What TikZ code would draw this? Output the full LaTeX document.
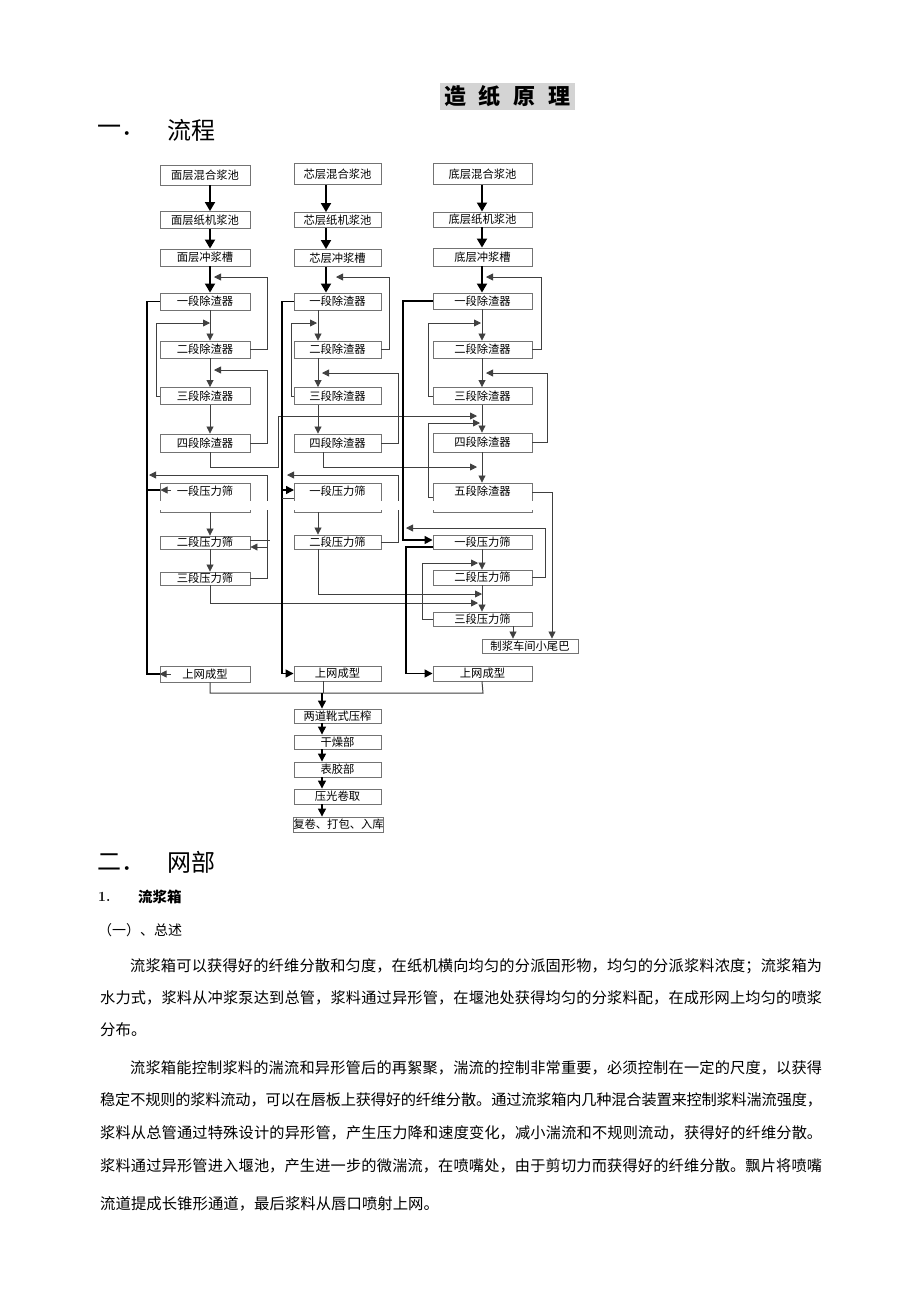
\documentclass[tikz,border=0pt]{standalone}
\usepackage{fontspec}
\newfontfamily\cjk{Noto Sans CJK SC}
\usetikzlibrary{arrows.meta}
\XeTeXlinebreaklocale "zh"
\XeTeXlinebreakskip=0pt plus 3pt minus 0.5pt
\tolerance=9999
\newcommand\jl[2]{\parbox{#1}{\cjk\fontsize{15.2}{18}\selectfont\parfillskip=0pt\relax\noindent #2}}
\begin{document}
\begin{tikzpicture}[x=1pt,y=-1pt,
  bx/.style={draw=black!55,line width=0.9pt,fill=white,inner sep=0pt,font=\cjk\fontsize{11.3}{11.3}\selectfont},
  wa/.style={minimum width=90pt},
  wb/.style={minimum width=87pt},
  wc/.style={minimum width=99pt},
  split/.style={minimum height=29pt,text height=12pt,text depth=17pt},
  ln/.style={draw=black!75,line width=0.8pt},
  thk/.style={draw=black,line width=1.4pt},
  arr/.style={ln,-{Triangle[length=7pt,width=7pt]}},
  tarr/.style={draw=black,line width=1.8pt,-{Triangle[length=9pt,width=10pt]}},
  barr/.style={draw=black,line width=1.3pt,-{Triangle[length=8pt,width=8pt]}},
  tharr/.style={thk,-{Triangle[length=8pt,width=8pt]}},
  txt/.style={inner sep=0pt,anchor=west}
]
\fill[white] (0,0) rectangle (920,1302);
\useasboundingbox (0,0) rectangle (920,1302);

% title and headings
\node[fill=black!17,inner sep=0pt,minimum width=135pt,minimum height=27pt,font=\cjk\bfseries\fontsize{22}{22}\selectfont] (title) at (507.5,96.5) {造\hspace{13pt}纸\hspace{13pt}原\hspace{13pt}理};
\node[txt,font=\cjk\fontsize{24}{24}\selectfont] (h1a) at (97,130) {一．};
\node[txt,font=\cjk\fontsize{24}{24}\selectfont] (h1b) at (167,130) {流程};

% stems
\coordinate (s1) at (210,0);
\coordinate (s2t) at (326,0);
\coordinate (s2) at (318,0);
\coordinate (s3) at (482,0);
\coordinate (sb) at (322,0);

% column 1
\node[bx,wa,minimum height=20pt] (c1a) at (205,175) {面层混合浆池};
\node[bx,wa,minimum height=17pt] (c1b) at (205,220) {面层纸机浆池};
\node[bx,wa,minimum height=17pt] (c1c) at (205,257.5) {面层冲浆槽};
\node[bx,wa,minimum height=17pt] (c1d1) at (205,301.5) {一段除渣器};
\node[bx,wa,minimum height=17pt] (c1d2) at (205,349.5) {二段除渣器};
\node[bx,wa,minimum height=17pt] (c1d3) at (205,396) {三段除渣器};
\node[bx,wa,minimum height=18pt] (c1d4) at (205,443) {四段除渣器};
\node[bx,wa,split] (c1s1) at (205,497.5) {一段压力筛};
\node[bx,wa,minimum height=13pt] (c1s2) at (205,542.5) {二段压力筛};
\node[bx,wa,minimum height=13pt] (c1s3) at (205,578.5) {三段压力筛};
\node[bx,wa,minimum height=16pt] (c1w) at (205,674) {上网成型};

% column 2
\node[bx,wb,minimum height=21pt] (c2a) at (337.5,174) {芯层混合浆池};
\node[bx,wb,minimum height=15pt] (c2b) at (337.5,220) {芯层纸机浆池};
\node[bx,wb,minimum height=17pt] (c2c) at (337.5,258) {芯层冲浆槽};
\node[bx,wb,minimum height=17pt] (c2d1) at (337.5,301.5) {一段除渣器};
\node[bx,wb,minimum height=17pt] (c2d2) at (337.5,349.5) {二段除渣器};
\node[bx,wb,minimum height=17pt] (c2d3) at (337.5,396) {三段除渣器};
\node[bx,wb,minimum height=18pt] (c2d4) at (337.5,443) {四段除渣器};
\node[bx,wb,split] (c2s1) at (337.5,497.5) {一段压力筛};
\node[bx,wb,minimum height=14pt] (c2s2) at (337.5,542) {二段压力筛};
\node[bx,wb,minimum height=15pt] (c2w) at (337.5,673.5) {上网成型};

% column 3
\node[bx,wc,minimum height=21pt] (c3a) at (482.5,174) {底层混合浆池};
\node[bx,wc,minimum height=15pt] (c3b) at (482.5,219.5) {底层纸机浆池};
\node[bx,wc,minimum height=18pt] (c3c) at (482.5,257) {底层冲浆槽};
\node[bx,wc,minimum height=16pt] (c3d1) at (482.5,301) {一段除渣器};
\node[bx,wc,minimum height=17pt] (c3d2) at (482.5,349.5) {二段除渣器};
\node[bx,wc,minimum height=17pt] (c3d3) at (482.5,396) {三段除渣器};
\node[bx,wc,minimum height=19pt] (c3d4) at (482.5,442.5) {四段除渣器};
\node[bx,wc,split] (c3d5) at (482.5,497.5) {五段除渣器};
\node[bx,wc,minimum height=14pt] (c3s1) at (482.5,542) {一段压力筛};
\node[bx,wc,minimum height=15pt] (c3s2) at (482.5,577.5) {二段压力筛};
\node[bx,wc,minimum height=14pt] (c3s3) at (482.5,619) {三段压力筛};
\node[bx,minimum width=96pt,minimum height=14pt] (c3t) at (530,646) {制浆车间小尾巴};
\node[bx,wc,minimum height=15pt] (c3w) at (482.5,673.5) {上网成型};

% bottom chain
\node[bx,wb,minimum height=14pt] (b1) at (337.5,716) {两道靴式压榨};
\node[bx,wb,minimum height=14pt] (b2) at (337.5,742) {干燥部};
\node[bx,wb,minimum height=15pt] (b3) at (337.5,769.5) {表胶部};
\node[bx,wb,minimum height=15pt] (b4) at (337.5,796.5) {压光卷取};
\node[bx,wb,minimum height=15pt] (b5) at (338.5,824.5) {复卷、打包、入库};

% ---- column 1 connectors
\draw[tarr] (c1a.south -| s1) -- (c1b.north -| s1);
\draw[tarr] (c1b.south -| s1) -- (c1c.north -| s1);
\draw[tarr] (c1c.south -| s1) -- (c1d1.north -| s1);
\draw[arr] (c1d1.south -| s1) -- (c1d2.north -| s1);
\draw[arr] (c1d2.south -| s1) -- (c1d3.north -| s1);
\draw[arr] (c1d3.south -| s1) -- (c1d4.north -| s1);
\draw[arr] (c1d2.east) -- (267,349.5) -- (267,277) -- (214,277);
\draw[arr] (c1d3.west) -- (156,396) -- (156,323) -- (210,323);
\draw[arr] (c1d4.east) -- (267,443) -- (267,370) -- (214,370);
\draw[thk] (c1d1.west) -- (147,301.5) -- (147,674) -- (c1w.west);
\draw[arr] ([xshift=11pt]c1w.west) -- (c1w.west);
\draw[thk] (147,490) -- (160,490);
\draw[arr] (171,490) -- (160.5,490);
\draw[arr] (c1s1.south -| s1) -- (c1s2.north -| s1);
\draw[arr] (c1s2.south -| s1) -- (c1s3.north -| s1);
\draw[ln] (c1s3.east) -- (267,578.5) -- (267,475);
\draw[arr] (267,475) -- (149,475);
\draw[ln] (250,540) -- (270,540);
\draw[arr] (267,547) -- (c1s2.east |- 0,547);
\draw[ln] (c1d4.south -| s1) -- (210,467) -- (278,467) -- (278,416);
\draw[arr] (278,416) -- (477,416);
\draw[arr] (c1s3.south -| s1) -- (210,603) -- (478,603);
\draw[ln,line width=1pt] (c1w.south -| s1) -- (210,693) -- (483,693) -- (c3w.south -| s3);

% ---- column 2 connectors
\draw[tarr] (c2a.south -| s2t) -- (c2b.north -| s2t);
\draw[tarr] (c2b.south -| s2t) -- (c2c.north -| s2t);
\draw[tarr] (c2c.south -| s2t) -- (c2d1.north -| s2t);
\draw[arr] (c2d1.south -| s2) -- (c2d2.north -| s2);
\draw[arr] (c2d2.south -| s2) -- (c2d3.north -| s2);
\draw[arr] (c2d3.south -| s2) -- (c2d4.north -| s2);
\draw[arr] (c2d2.east) -- (389,349.5) -- (389,277) -- (336,277);
\draw[arr] (c2d3.west) -- (291,396) -- (291,323) -- (317,323);
\draw[arr] (c2d4.east) -- (398,443) -- (398,373) -- (322,373);
\draw[tharr] (c2d1.west) -- (282,301.5) -- (282,673.5) -- (c2w.west);
\draw[tharr] (282,490) -- (294,490);
\draw[ln] (282,498) -- (294,498);
\draw[ln] (323,452) -- (323,467);
\draw[arr] (323,467) -- (477,467);
\draw[arr] (c2s1.south -| s2) -- (c2s2.north -| s2);
\draw[ln] (c2s2.east) -- (398,542) -- (398,475);
\draw[arr] (398,475) -- (287,475);
\draw[arr] (c2s2.south -| s2) -- (318,594) -- (482,594);
\draw[ln,line width=1pt] (323,681) -- (323,693);

% ---- column 3 connectors
\draw[tarr] (c3a.south -| s3) -- (c3b.north -| s3);
\draw[tarr] (c3b.south -| s3) -- (c3c.north -| s3);
\draw[tarr] (c3c.south -| s3) -- (c3d1.north -| s3);
\draw[arr] (c3d1.south -| s3) -- (c3d2.north -| s3);
\draw[arr] (c3d2.south -| s3) -- (c3d3.north -| s3);
\draw[arr] (c3d3.south -| s3) -- (c3d4.north -| s3);
\draw[arr] (c3d4.south -| s3) -- (c3d5.north -| s3);
\draw[arr] (c3s1.south -| s3) -- (c3s2.north -| s3);
\draw[arr] (c3s2.south -| s3) -- (c3s3.north -| s3);
\draw[arr] (c3d2.east) -- (541,349.5) -- (541,277) -- (486,277);
\draw[arr] (c3d3.west) -- (428,396) -- (428,323) -- (481,323);
\draw[arr] (c3d4.east) -- (547,442.5) -- (547,373) -- (486,373);
\draw[tharr] (c3d1.west) -- (403,301) -- (403,540) -- (c3s1.west |- 0,540);
\draw[tharr] (c3s1.west |- 0,547) -- (406,547) -- (406,673.5) -- (c3w.west);
\draw[arr] (c3d5.west |- 0,497) -- (428,497) -- (428,423) -- (480,423);
\draw[arr] (c3d5.east |- 0,492) -- (552,492) -- (c3t.north -| 552,0);
\draw[arr] (c3s2.east) -- (545,577.5) -- (545,528) -- (406,528);
\draw[arr] (c3s3.west) -- (422,619) -- (422,563) -- (478,563);
\draw[arr] (c3s3.south -| 513,0) -- (c3t.north -| 513,0);

% ---- bottom chain
\draw[barr] (sb |- 0,693) -- (b1.north -| sb);
\draw[barr] (b1.south -| sb) -- (b2.north -| sb);
\draw[barr] (b2.south -| sb) -- (b3.north -| sb);
\draw[barr] (b3.south -| sb) -- (b4.north -| sb);
\draw[barr] (b4.south -| sb) -- (b5.north -| sb);

% page-break band
\fill[white] (152,500.5) rectangle (276,509.5);
\fill[white] (287,500.5) rectangle (401,509.5);
\fill[white] (429,500.5) rectangle (540,509.5);

% ---- text below
\node[txt,font=\cjk\fontsize{24}{24}\selectfont] (h2a) at (97,862) {二．};
\node[txt,font=\cjk\fontsize{24}{24}\selectfont] (h2b) at (167,862) {网部};
\node[txt,font=\bfseries\fontsize{14}{14}\selectfont] (h3a) at (98,897) {1.};
\node[txt,font=\cjk\bfseries\fontsize{14.5}{14.5}\selectfont] (h3b) at (138,897) {流浆箱};
\node[txt,font=\cjk\fontsize{14}{14}\selectfont] (h4) at (98,930) {（一）、总述};

\node[txt] (p1a) at (130,966) {\jl{692pt}{流浆箱可以获得好的纤维分散和匀度，在纸机横向均匀的分派固形物，均匀的分派浆料浓度；流浆箱为}};
\node[txt] (p1b) at (100,998) {\jl{722pt}{水力式，浆料从冲浆泵达到总管，浆料通过异形管，在堰池处获得均匀的分浆料配，在成形网上均匀的喷浆}};
\node[txt,font=\cjk\fontsize{15.4}{18}\selectfont] (p1c) at (100,1030) {分布。};
\node[txt] (p2a) at (130,1068) {\jl{692pt}{流浆箱能控制浆料的湍流和异形管后的再絮聚，湍流的控制非常重要，必须控制在一定的尺度，以获得}};
\node[txt] (p2b) at (100,1100) {\jl{722pt}{稳定不规则的浆料流动，可以在唇板上获得好的纤维分散。通过流浆箱内几种混合装置来控制浆料湍流强度，}};
\node[txt] (p2c) at (100,1133) {\jl{722pt}{浆料从总管通过特殊设计的异形管，产生压力降和速度变化，减小湍流和不规则流动，获得好的纤维分散。}};
\node[txt] (p2d) at (100,1166) {\jl{722pt}{浆料通过异形管进入堰池，产生进一步的微湍流，在喷嘴处，由于剪切力而获得好的纤维分散。飘片将喷嘴}};
\node[txt,font=\cjk\fontsize{15.4}{18}\selectfont] (p2e) at (100,1204) {流道提成长锥形通道，最后浆料从唇口喷射上网。};
\end{tikzpicture}
\end{document}
